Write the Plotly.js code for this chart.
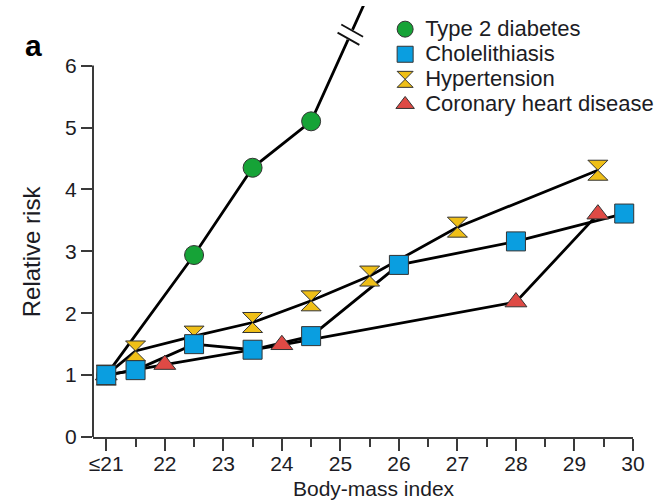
<!DOCTYPE html>
<html><head><meta charset="utf-8">
<script src="https://cdn.plot.ly/plotly-3.0.1.min.js"></script>
<style>html,body{margin:0;padding:0;background:#fff}</style>
</head><body><div id="chart" style="width:669px;height:500px"></div>
<script>
// ---- data ----
const seriesNames = ['Type 2 diabetes', 'Cholelithiasis', 'Hypertension', 'Coronary heart disease'];
const bmiDiabetes = [21, 22.5, 23.5, 24.5, 25.5];
const rrDiabetes  = [1.0, 2.94, 4.35, 5.10, 7.19];   // last value runs off the broken axis
const bmiChol = [21, 21.5, 22.5, 23.5, 24.5, 26, 28, 29.85];
const rrChol  = [1.0, 1.08, 1.50, 1.41, 1.63, 2.78, 3.16, 3.61];
const bmiHyp = [21, 21.5, 22.5, 23.5, 24.5, 25.5, 27, 29.4];
const rrHyp  = [1.0, 1.39, 1.63, 1.85, 2.20, 2.60, 3.39, 4.31];
const bmiCHD = [21, 22, 24, 28, 29.4];
const rrCHD  = [1.0, 1.17, 1.49, 2.18, 3.60];
const xTickVals = [21, 22, 23, 24, 25, 26, 27, 28, 29, 30];
const xTickText = ['\u226421', '22', '23', '24', '25', '26', '27', '28', '29', '30'];
const xMinorTickVals = [21.5, 22.5, 23.5, 24.5, 25.5, 26.5, 27.5, 28.5, 29.5];
const yTickVals = [0, 1, 2, 3, 4, 5, 6];

// ---- styling ----
const FONT = 'Liberation Sans, Arial, Helvetica, sans-serif';
const TXT = '#1c1c24';
const AX = '#3a3a3a';
const X_RANGE = [20.773, 30];
const Y_RANGE = [0, 6.963];
const M = {l: 93, r: 36, t: 6, b: 63};
const W = 669 - M.l - M.r, H = 500 - M.t - M.b;

const styles = [
  {color: '#16a337', symbol: 'circle', size: 19},
  {color: '#0a9ee0', symbol: 'square', size: 19},
  {color: '#efbf17', symbol: 'hourglass', size: 20},
  {color: '#de4a45', symbol: 'triangle-up', size: 19}
];
const xs = [bmiDiabetes, bmiChol, bmiHyp, bmiCHD];
const ys = [rrDiabetes, rrChol, rrHyp, rrCHD];

const traces = [];
// lines first (under all markers)
for (let i = 0; i < 4; i++) {
  traces.push({x: xs[i], y: ys[i], mode: 'lines', type: 'scatter', showlegend: false,
    hoverinfo: 'skip', line: {color: '#000', width: 2.8}});
}
// markers; drawing order so the cholelithiasis square sits on top at the reference point
const drawOrder = [0, 3, 2, 1];
for (const i of drawOrder) {
  const mx = [], my = [];
  xs[i].forEach((v, k) => { if (ys[i][k] <= yTickVals[yTickVals.length - 1]) { mx.push(v); my.push(ys[i][k]); } });
  traces.push({x: mx, y: my, mode: 'markers', type: 'scatter', cliponaxis: false,
    name: '<span style="font-size:22px">' + seriesNames[i] + '</span>',
    legendrank: i + 1,
    marker: {color: styles[i].color, symbol: styles[i].symbol, size: styles[i].size,
      line: {color: '#333', width: 1}}});
}

// ---- axis break marks on the diabetes line ----
const pxX = W / (X_RANGE[1] - X_RANGE[0]), pxY = H / (Y_RANGE[1] - Y_RANGE[0]);
const n = bmiDiabetes.length;
const ax0 = bmiDiabetes[n - 2], ay0 = rrDiabetes[n - 2], bx0 = bmiDiabetes[n - 1], by0 = rrDiabetes[n - 1];
const breakY = 6.5;
const tt = (breakY - ay0) / (by0 - ay0);
const breakX = ax0 + tt * (bx0 - ax0);
let dx = (bx0 - ax0) * pxX, dy = (by0 - ay0) * pxY;
const L = Math.hypot(dx, dy); dx /= L; dy /= L;
const ang = -95 * Math.PI / 180;
const mxd = dx * Math.cos(ang) - dy * Math.sin(ang), myd = dx * Math.sin(ang) + dy * Math.cos(ang);
const brk = (x0, y0, x1, y1, color, width) => ({type: 'line', xref: 'x', yref: 'y',
  xsizemode: 'pixel', ysizemode: 'pixel', xanchor: breakX, yanchor: breakY,
  x0: x0, y0: y0, x1: x1, y1: y1, line: {color: color, width: width}});
const shapes = [
  brk(-5.5 * dx, -5.5 * dy, 5.5 * dx, 5.5 * dy, '#ffffff', 6)
];
for (const s of [-4.5, 4.5]) {
  shapes.push(brk(s * dx - 12.5 * mxd, s * dy - 12.5 * myd, s * dx + 12.5 * mxd, s * dy + 12.5 * myd, '#111', 1.8));
}
// y axis line from 0 to 6 only
shapes.push({type: 'line', xref: 'paper', x0: 0, x1: 0, yref: 'y', y0: yTickVals[0], y1: yTickVals[yTickVals.length - 1],
  line: {color: AX, width: 2}, layer: 'above'});

const layout = {
  width: 669, height: 500, margin: M,
  paper_bgcolor: '#fff', plot_bgcolor: '#fff',
  font: {family: FONT, color: TXT, size: 21},
  showlegend: true,
  legend: {x: 0.541, y: 0.987, xanchor: 'left', yanchor: 'top', bgcolor: 'rgba(0,0,0,0)',
    font: {family: FONT, size: 17, color: TXT}, tracegroupgap: 0, itemclick: false},
  xaxis: {range: X_RANGE, showgrid: false, zeroline: false, showline: true, linecolor: AX, linewidth: 2,
    tickmode: 'array', tickvals: xTickVals, ticktext: xTickText, ticks: 'outside', ticklen: 12,
    tickwidth: 2, tickcolor: AX, tickfont: {family: FONT, size: 21, color: TXT}, ticklabelstandoff: -5,
    minor: {tickmode: 'array', tickvals: xMinorTickVals, ticks: 'outside', ticklen: 8, tickwidth: 2, tickcolor: AX, showgrid: false}},
  yaxis: {range: Y_RANGE, showgrid: false, zeroline: false, showline: false,
    tickmode: 'array', tickvals: yTickVals, ticks: 'outside', ticklen: 11, tickwidth: 2, tickcolor: AX,
    tickfont: {family: FONT, size: 21, color: TXT}},
  shapes: shapes,
  annotations: [
    {text: 'Relative risk', xref: 'paper', yref: 'y', x: (31 - M.l) / W, y: 3, textangle: -90,
      showarrow: false, xanchor: 'center', yanchor: 'middle', font: {family: FONT, size: 24, color: TXT}},
    {text: 'Body-mass index', xref: 'x', yref: 'paper', x: 25.58, y: (437 - 488) / H,
      showarrow: false, xanchor: 'center', yanchor: 'middle', font: {family: FONT, size: 21, color: TXT}},
    {text: '<b>a</b>', xref: 'paper', yref: 'paper', x: (33.5 - M.l) / W, y: (437 - 45.5) / H,
      showarrow: false, xanchor: 'center', yanchor: 'middle', font: {family: FONT, size: 30, color: '#000'}}
  ]
};
Plotly.newPlot('chart', traces, layout, {staticPlot: true, displayModeBar: false});
</script>
</body></html>
